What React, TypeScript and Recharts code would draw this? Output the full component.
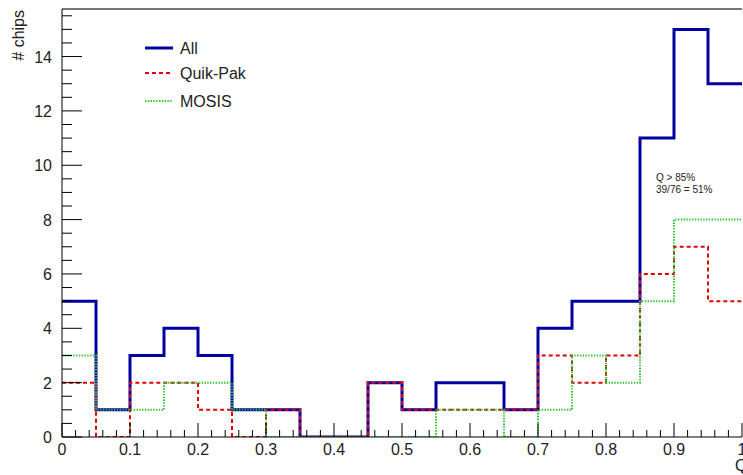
import { ComposedChart, Line, XAxis, YAxis, ReferenceLine } from 'recharts'

// histogram bins of width 0.05, lower edges
const BIN_EDGES = [0, 0.05, 0.1, 0.15, 0.2, 0.25, 0.3, 0.35, 0.4, 0.45, 0.5, 0.55, 0.6, 0.65, 0.7, 0.75, 0.8, 0.85, 0.9, 0.95]
const ALL = [5, 1, 3, 4, 3, 1, 1, 0, 0, 2, 1, 2, 2, 1, 4, 5, 5, 11, 15, 13]
const QUIKPAK = [2, 0, 2, 2, 1, 0, 1, 0, 0, 2, 1, 1, 1, 1, 3, 2, 3, 6, 7, 5]
const MOSIS = [3, 1, 1, 2, 2, 1, 0, 0, 0, 0, 0, 1, 1, 0, 1, 3, 2, 5, 8, 8]
const X_END = 1

const X_MAJOR = [0, 0.1, 0.2, 0.3, 0.4, 0.5, 0.6, 0.7, 0.8, 0.9, 1]
const Y_MAJOR = [0, 2, 4, 6, 8, 10, 12, 14]
const Y_MAX = 15.75

const X_TICKS: number[] = []
for (let i = 0; i <= 50; i++) X_TICKS.push(+(i * 0.02).toFixed(2))
const Y_TICKS: number[] = []
for (let i = 0; i <= 31; i++) Y_TICKS.push(i * 0.5)

const data = [
  ...BIN_EDGES.map((x, i) => ({ x, all: ALL[i], qp: QUIKPAK[i], mosis: MOSIS[i] })),
  { x: X_END, all: ALL[ALL.length - 1], qp: QUIKPAK[QUIKPAK.length - 1], mosis: MOSIS[MOSIS.length - 1] },
]

const FONT = '"Liberation Sans", Arial, Helvetica, sans-serif'
const BLUE = '#0000a0'
const RED = '#e00000'
const GREEN = '#2ec42e'

const isMajor = (v: number, list: number[]) => list.some((m) => Math.abs(m - v) < 1e-6)
const fmtX = (v: number) => (v === 0 ? '0' : v === 1 ? '1' : v.toFixed(1))

function XTick(props: any) {
  const { x, y, payload } = props
  const major = isMajor(payload.value, X_MAJOR)
  return (
    <g>
      <line x1={x} x2={x} y1={y} y2={y - (major ? 14 : 7)} stroke="#000" strokeWidth={1} />
      {major && (
        <text x={x} y={y + 18} textAnchor="middle" fontSize={16} fontFamily={FONT} fill="#222">
          {fmtX(payload.value)}
        </text>
      )}
    </g>
  )
}

function YTick(props: any) {
  const { x, y, payload } = props
  const major = isMajor(payload.value, Y_MAJOR)
  return (
    <g>
      <line x1={x} x2={x + (major ? 20 : 10)} y1={y} y2={y} stroke="#000" strokeWidth={1} />
      {major && (
        <text x={x - 10} y={y + 6} textAnchor="end" fontSize={16} fontFamily={FONT} fill="#222">
          {payload.value}
        </text>
      )}
    </g>
  )
}

export default function App() {
  return (
    <div style={{ position: 'absolute', left: 0, top: 0, width: 743, height: 475, overflow: 'hidden', background: '#fff' }}>
      <ComposedChart width={782} height={475} data={data} margin={{ top: 9, right: 40, bottom: 0, left: 0 }}>
        <XAxis
          dataKey="x"
          type="number"
          domain={[0, 1]}
          ticks={X_TICKS}
          interval={0}
          tickSize={0}
          tickMargin={0}
          tick={<XTick />}
          height={38}
          stroke="#000"
          allowDataOverflow
        />
        <YAxis
          type="number"
          domain={[0, Y_MAX]}
          ticks={Y_TICKS}
          interval={0}
          tickSize={0}
          tickMargin={0}
          tick={<YTick />}
          width={62}
          stroke="#000"
          allowDataOverflow
        />
        <ReferenceLine y={Y_MAX} stroke="#777" strokeWidth={2} ifOverflow="extendDomain" />
        <Line type="stepAfter" dataKey="all" stroke={BLUE} strokeWidth={3} dot={false} activeDot={false} isAnimationActive={false} />
        <Line type="stepAfter" dataKey="qp" stroke={RED} strokeWidth={2} strokeDasharray="4 3" dot={false} activeDot={false} isAnimationActive={false} />
        <Line type="stepAfter" dataKey="mosis" stroke={GREEN} strokeWidth={2} strokeDasharray="1.4 1.4" dot={false} activeDot={false} isAnimationActive={false} />
      </ComposedChart>
      <svg width={743} height={475} style={{ position: 'absolute', left: 0, top: 0, pointerEvents: 'none' }}>
        <text transform="translate(24,10) rotate(-90)" textAnchor="end" fontSize={16} fontFamily={FONT} fill="#222">
          # chips
        </text>
        <text x={735} y={471} fontSize={16} fontFamily={FONT} fill="#222">Q</text>
        <line x1={145} x2={173} y1={48} y2={48} stroke={BLUE} strokeWidth={3} />
        <text x={180} y={54} fontSize={16} fontFamily={FONT} fill="#222">All</text>
        <line x1={145} x2={173} y1={73} y2={73} stroke={RED} strokeWidth={2} strokeDasharray="4 3" />
        <text x={180} y={79} fontSize={16} fontFamily={FONT} fill="#222">Quik-Pak</text>
        <line x1={145} x2={173} y1={101} y2={101} stroke={GREEN} strokeWidth={2} strokeDasharray="1.4 1.4" />
        <text x={180} y={107} fontSize={16} fontFamily={FONT} fill="#222">MOSIS</text>
        <text x={656} y={181} fontSize={10} fontFamily={FONT} fill="#222">Q &gt; 85%</text>
        <text x={656} y={193} fontSize={10} fontFamily={FONT} fill="#222">39/76 = 51%</text>
      </svg>
    </div>
  )
}
